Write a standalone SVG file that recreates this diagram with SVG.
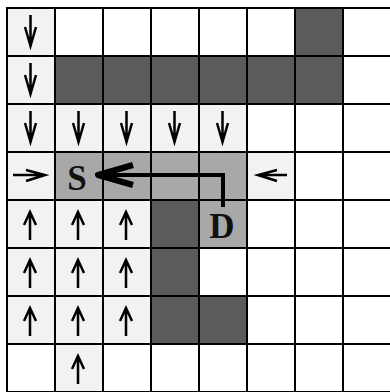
<svg xmlns="http://www.w3.org/2000/svg" width="390" height="392" viewBox="0 0 390 392">
<style>
.c{stroke:#000;stroke-width:2}
.w{fill:#fff}
.l{fill:#f2f2f2}
.m{fill:#a8a8a8}
.d{fill:#5b5b5b}
.a{fill:none;stroke:#000;stroke-width:2.5;stroke-linejoin:miter}
.lbl{font-family:"Liberation Serif","Times New Roman",serif;font-weight:bold;font-size:35px;text-anchor:middle;fill:#111}
.path{fill:none;stroke:#000;stroke-width:4;stroke-linejoin:miter}
.head{fill:none;stroke:#000;stroke-width:6;stroke-linejoin:round;stroke-linecap:butt}
</style>
<defs>
<g id="dn"><path class="a" d="M23.5 7V37M18 19L23.5 38L29 19"/></g>
<g id="up"><path class="a" d="M23 40V13M17 25L23 12L29 25"/></g>
<g id="rt"><path class="a" d="M6 23H37M19 18L38 23L19 29"/></g>
<g id="lt"><path class="a" d="M40 23H12M30 18L11 23L30 29"/></g>
</defs>
<rect width="390" height="392" fill="#fff"/>
<g id="cells">
<g id="r0c0"><rect class="c l" x="7" y="8" width="48" height="48"/><use href="#dn" x="7" y="8"/></g>
<g id="r0c1"><rect class="c w" x="55" y="8" width="48" height="48"/></g>
<g id="r0c2"><rect class="c w" x="103" y="8" width="48" height="48"/></g>
<g id="r0c3"><rect class="c w" x="151" y="8" width="48" height="48"/></g>
<g id="r0c4"><rect class="c w" x="199" y="8" width="48" height="48"/></g>
<g id="r0c5"><rect class="c w" x="247" y="8" width="48" height="48"/></g>
<g id="r0c6"><rect class="c d" x="295" y="8" width="48" height="48"/></g>
<g id="r0c7"><rect class="c w" x="343" y="8" width="48" height="48"/></g>
<g id="r1c0"><rect class="c l" x="7" y="56" width="48" height="48"/><use href="#dn" x="7" y="56"/></g>
<g id="r1c1"><rect class="c d" x="55" y="56" width="48" height="48"/></g>
<g id="r1c2"><rect class="c d" x="103" y="56" width="48" height="48"/></g>
<g id="r1c3"><rect class="c d" x="151" y="56" width="48" height="48"/></g>
<g id="r1c4"><rect class="c d" x="199" y="56" width="48" height="48"/></g>
<g id="r1c5"><rect class="c d" x="247" y="56" width="48" height="48"/></g>
<g id="r1c6"><rect class="c d" x="295" y="56" width="48" height="48"/></g>
<g id="r1c7"><rect class="c w" x="343" y="56" width="48" height="48"/></g>
<g id="r2c0"><rect class="c l" x="7" y="104" width="48" height="48"/><use href="#dn" x="7" y="104"/></g>
<g id="r2c1"><rect class="c l" x="55" y="104" width="48" height="48"/><use href="#dn" x="55" y="104"/></g>
<g id="r2c2"><rect class="c l" x="103" y="104" width="48" height="48"/><use href="#dn" x="103" y="104"/></g>
<g id="r2c3"><rect class="c l" x="151" y="104" width="48" height="48"/><use href="#dn" x="151" y="104"/></g>
<g id="r2c4"><rect class="c l" x="199" y="104" width="48" height="48"/><use href="#dn" x="199" y="104"/></g>
<g id="r2c5"><rect class="c w" x="247" y="104" width="48" height="48"/></g>
<g id="r2c6"><rect class="c w" x="295" y="104" width="48" height="48"/></g>
<g id="r2c7"><rect class="c w" x="343" y="104" width="48" height="48"/></g>
<g id="r3c0"><rect class="c l" x="7" y="152" width="48" height="48"/><use href="#rt" x="7" y="152"/></g>
<g id="r3c1"><rect class="c m" x="55" y="152" width="48" height="48"/></g>
<g id="r3c2"><rect class="c m" x="103" y="152" width="48" height="48"/></g>
<g id="r3c3"><rect class="c m" x="151" y="152" width="48" height="48"/></g>
<g id="r3c4"><rect class="c m" x="199" y="152" width="48" height="48"/></g>
<g id="r3c5"><rect class="c l" x="247" y="152" width="48" height="48"/><use href="#lt" x="247" y="152"/></g>
<g id="r3c6"><rect class="c w" x="295" y="152" width="48" height="48"/></g>
<g id="r3c7"><rect class="c w" x="343" y="152" width="48" height="48"/></g>
<g id="r4c0"><rect class="c l" x="7" y="200" width="48" height="48"/><use href="#up" x="7" y="200"/></g>
<g id="r4c1"><rect class="c l" x="55" y="200" width="48" height="48"/><use href="#up" x="55" y="200"/></g>
<g id="r4c2"><rect class="c l" x="103" y="200" width="48" height="48"/><use href="#up" x="103" y="200"/></g>
<g id="r4c3"><rect class="c d" x="151" y="200" width="48" height="48"/></g>
<g id="r4c4"><rect class="c m" x="199" y="200" width="48" height="48"/></g>
<g id="r4c5"><rect class="c w" x="247" y="200" width="48" height="48"/></g>
<g id="r4c6"><rect class="c w" x="295" y="200" width="48" height="48"/></g>
<g id="r4c7"><rect class="c w" x="343" y="200" width="48" height="48"/></g>
<g id="r5c0"><rect class="c l" x="7" y="248" width="48" height="48"/><use href="#up" x="7" y="248"/></g>
<g id="r5c1"><rect class="c l" x="55" y="248" width="48" height="48"/><use href="#up" x="55" y="248"/></g>
<g id="r5c2"><rect class="c l" x="103" y="248" width="48" height="48"/><use href="#up" x="103" y="248"/></g>
<g id="r5c3"><rect class="c d" x="151" y="248" width="48" height="48"/></g>
<g id="r5c4"><rect class="c w" x="199" y="248" width="48" height="48"/></g>
<g id="r5c5"><rect class="c w" x="247" y="248" width="48" height="48"/></g>
<g id="r5c6"><rect class="c w" x="295" y="248" width="48" height="48"/></g>
<g id="r5c7"><rect class="c w" x="343" y="248" width="48" height="48"/></g>
<g id="r6c0"><rect class="c l" x="7" y="296" width="48" height="48"/><use href="#up" x="7" y="296"/></g>
<g id="r6c1"><rect class="c l" x="55" y="296" width="48" height="48"/><use href="#up" x="55" y="296"/></g>
<g id="r6c2"><rect class="c l" x="103" y="296" width="48" height="48"/><use href="#up" x="103" y="296"/></g>
<g id="r6c3"><rect class="c d" x="151" y="296" width="48" height="48"/></g>
<g id="r6c4"><rect class="c d" x="199" y="296" width="48" height="48"/></g>
<g id="r6c5"><rect class="c w" x="247" y="296" width="48" height="48"/></g>
<g id="r6c6"><rect class="c w" x="295" y="296" width="48" height="48"/></g>
<g id="r6c7"><rect class="c w" x="343" y="296" width="48" height="48"/></g>
<g id="r7c0"><rect class="c w" x="7" y="344" width="48" height="48"/></g>
<g id="r7c1"><rect class="c l" x="55" y="344" width="48" height="48"/><use href="#up" x="55" y="344"/></g>
<g id="r7c2"><rect class="c w" x="103" y="344" width="48" height="48"/></g>
<g id="r7c3"><rect class="c w" x="151" y="344" width="48" height="48"/></g>
<g id="r7c4"><rect class="c w" x="199" y="344" width="48" height="48"/></g>
<g id="r7c5"><rect class="c w" x="247" y="344" width="48" height="48"/></g>
<g id="r7c6"><rect class="c w" x="295" y="344" width="48" height="48"/></g>
<g id="r7c7"><rect class="c w" x="343" y="344" width="48" height="48"/></g>
</g>
<g id="S"><text class="lbl" x="77" y="190">S</text></g>
<g id="D"><text class="lbl" x="222" y="238">D</text></g>
<g id="connectors">
<path class="path" d="M223 207V175H98"/>
<path class="head" d="M133 165L98 175L133 185"/>
</g>
</svg>
